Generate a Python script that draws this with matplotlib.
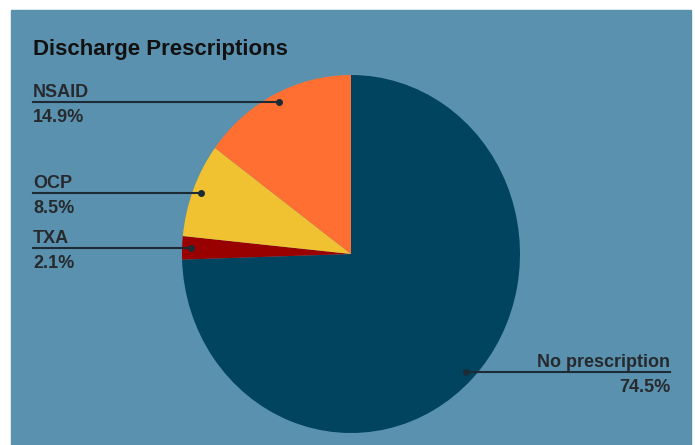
import numpy as np
import matplotlib
matplotlib.use("Agg")
import matplotlib.pyplot as plt
from matplotlib.patches import Rectangle

# data (clockwise from 12 o'clock)
labels = ["No prescription", "TXA", "OCP", "NSAID"]
shares = [74.5, 2.1, 8.5, 14.9]
colors = ["#00445f", "#990000", "#f0c232", "#ff6f31"]

plt.rcParams['font.family'] = ['Liberation Sans', 'DejaVu Sans']

fig = plt.figure(figsize=(6.95, 4.45), dpi=100)
fig.patch.set_facecolor("white")
fig.patches.append(Rectangle((11 / 695, 0), 680 / 695, 435 / 445,
                             transform=fig.transFigure, color="#5a91ae", zorder=-5))

# pie is slightly taller than wide in the reference, so stretch the axes
ax = fig.add_axes([182 / 695, 12 / 445, 338 / 695, 358 / 445])
wedges, _ = ax.pie(shares, colors=colors, startangle=90, counterclock=False,
                   wedgeprops=dict(linewidth=0))
ax.set_aspect("auto")
ax.set_xlim(-1, 1)
ax.set_ylim(-1, 1)
ax.axis("off")

fig.text(33 / 695, 1 - 55 / 445, "Discharge Prescriptions", fontsize=16,
         fontweight="bold", color="#111111", ha="left", va="baseline")

line_col = "#1c2b36"
text_col = "#262a2e"
for w, lab, val in zip(wedges, labels, shares):
    ang = np.deg2rad((w.theta1 + w.theta2) / 2)
    px, py = 0.95 * np.cos(ang), 0.95 * np.sin(ang)
    if px < 0:
        lx, ha = -1.882, "left"
    else:
        lx, ha = 1.888, "right"
    ax.plot([px, lx], [py, py], color=line_col, lw=1.5, clip_on=False)
    ax.plot(px, py, "o", color=line_col, ms=4, clip_on=False)
    ax.annotate(lab, (lx, py), xytext=(0, 5), textcoords="offset pixels",
                ha=ha, va="baseline", fontsize=13, fontweight="bold",
                color=text_col, annotation_clip=False)
    ax.annotate(f"{val}%", (lx, py), xytext=(0, -20), textcoords="offset pixels",
                ha=ha, va="baseline", fontsize=13, fontweight="bold",
                color=text_col, annotation_clip=False)

fig.savefig("out.png", dpi=100)
